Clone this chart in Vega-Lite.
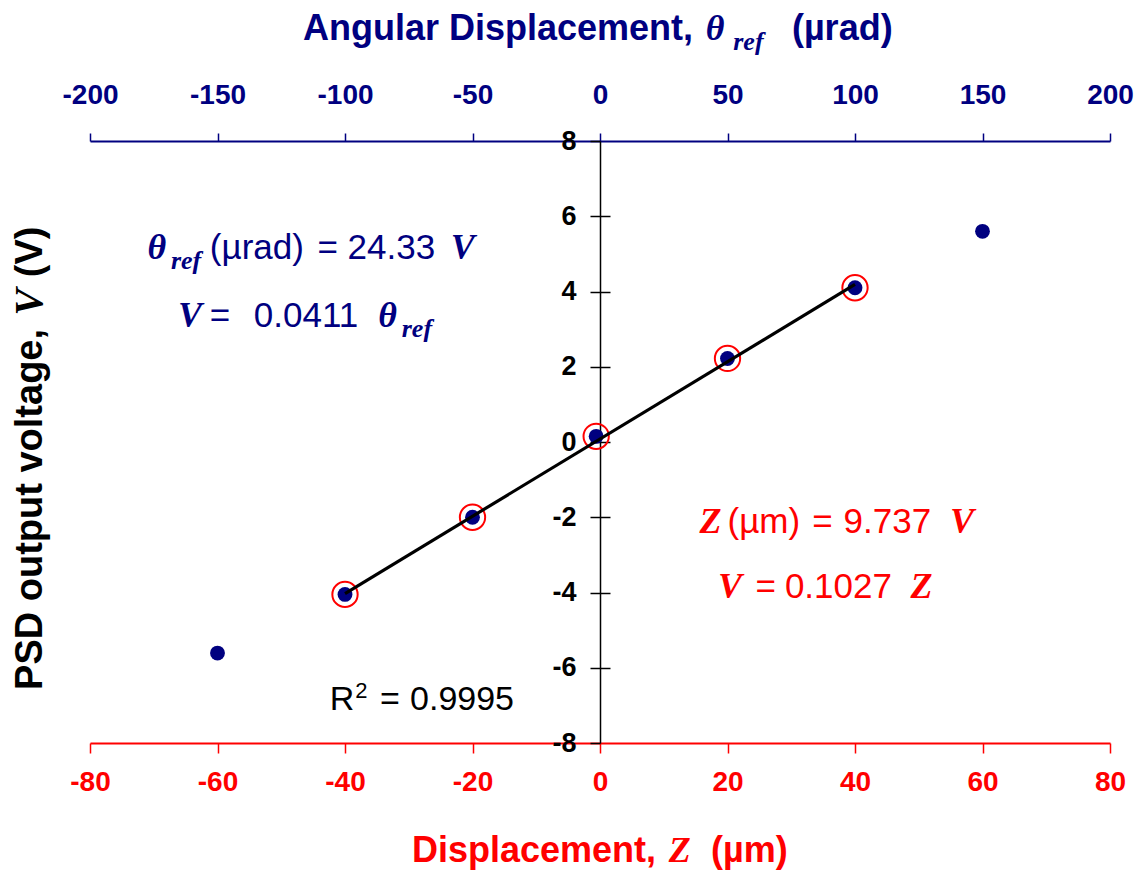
{
  "$schema": "https://vega.github.io/schema/vega-lite/v6.json",
  "width": 1020,
  "height": 602,
  "autosize": {"type": "none"},
  "padding": {"left": 90, "top": 141, "right": 31, "bottom": 133},
  "background": "white",
  "config": {"view": {"stroke": null}},
  "datasets": {
    "psd": [
      {"Z": -60, "theta": -150, "V": -5.61, "inFit": false},
      {"Z": -40, "theta": -100, "V": -4.05, "inFit": true},
      {"Z": -20, "theta": -50, "V": -2.0, "inFit": true},
      {"Z": -0.6, "theta": -1.5, "V": 0.15, "inFit": true},
      {"Z": 20, "theta": 50, "V": 2.22, "inFit": true},
      {"Z": 40, "theta": 100, "V": 4.1, "inFit": true},
      {"Z": 60, "theta": 150, "V": 5.6, "inFit": false}
    ],
    "fit": [
      {"Z": -40, "V": -4.028},
      {"Z": 40, "V": 4.188}
    ],
    "notes": [
      {"s": "navySerif", "t": "θ", "Z": -71.0, "V": 4.86},
      {"s": "navySerif", "t": "V", "Z": -23.4, "V": 4.86},
      {"s": "navySerif", "t": "V", "Z": -66.2, "V": 3.06},
      {"s": "navySerif", "t": "θ", "Z": -34.8, "V": 3.06},
      {"s": "navySerif", "t": "θ", "Z": 16.6, "V": 10.68},
      {"s": "navySub", "t": "ref", "Z": -67.3, "V": 4.6},
      {"s": "navySub", "t": "ref", "Z": -31.1, "V": 2.79},
      {"s": "navySub", "t": "ref", "Z": 20.9, "V": 10.42},
      {"s": "navySans", "t": "(µrad)", "Z": -61.2, "V": 4.86},
      {"s": "navySans", "t": "=", "Z": -44.3, "V": 4.86},
      {"s": "navySans", "t": "24.33", "Z": -39.6, "V": 4.86},
      {"s": "navySans", "t": "=", "Z": -61.2, "V": 3.06},
      {"s": "navySans", "t": "0.0411", "Z": -54.3, "V": 3.06},
      {"s": "navyBold", "t": "Angular Displacement,", "Z": -46.6, "V": 10.68},
      {"s": "navyBold", "t": "(µrad)", "Z": 30.1, "V": 10.68},
      {"s": "redSerif", "t": "Z", "Z": 15.6, "V": -2.42},
      {"s": "redSerif", "t": "V", "Z": 54.9, "V": -2.42},
      {"s": "redSerif", "t": "V", "Z": 18.5, "V": -4.15},
      {"s": "redSerif", "t": "Z", "Z": 48.7, "V": -4.15},
      {"s": "redSerif", "t": "Z", "Z": 10.8, "V": -11.16},
      {"s": "redSans", "t": "(µm)", "Z": 20.0, "V": -2.42},
      {"s": "redSans", "t": "=", "Z": 33.3, "V": -2.42},
      {"s": "redSans", "t": "9.737", "Z": 38.2, "V": -2.42},
      {"s": "redSans", "t": "=", "Z": 24.4, "V": -4.15},
      {"s": "redSans", "t": "0.1027", "Z": 29.0, "V": -4.15},
      {"s": "redBold", "t": "Displacement,", "Z": -29.5, "V": -11.16},
      {"s": "redBold", "t": "(µm)", "Z": 17.4, "V": -11.16},
      {"s": "blackSans", "t": "R", "Z": -42.4, "V": -7.12},
      {"s": "blackSans", "t": "=", "Z": -34.5, "V": -7.12},
      {"s": "blackSans", "t": "0.9995", "Z": -29.8, "V": -7.12},
      {"s": "blackSup", "t": "2", "Z": -38.4, "V": -6.8},
      {"s": "yTitleSans", "t": "PSD output voltage,", "Z": -87.5, "V": -6.59},
      {"s": "yTitleSans", "t": "(V)", "Z": -87.5, "V": 4.38},
      {"s": "yTitleSerif", "t": "V", "Z": -87.5, "V": 3.36}
    ]
  },
  "layer": [
    {
      "encoding": {
        "x": {
          "field": "Z",
          "type": "quantitative",
          "scale": {"domain": [-80, 80], "nice": false, "zero": false},
          "axis": {
            "orient": "bottom",
            "title": null,
            "grid": false,
            "values": [-80, -60, -40, -20, 0, 20, 40, 60, 80],
            "labelExpr": "replace(datum.label, '−', '-')",
            "domainColor": "#FF0000",
            "domainWidth": 2,
            "tickColor": "#FF0000",
            "tickWidth": 1.5,
            "tickSize": 10,
            "labelColor": "#FF0000",
            "labelFont": "Liberation Sans",
            "labelFontWeight": "bold",
            "labelFontSize": 28,
            "labelPadding": 15,
            "labelFlush": false,
            "labelOverlap": false
          }
        },
        "y": {
          "field": "V",
          "type": "quantitative",
          "scale": {"domain": [-8, 8], "nice": false, "zero": false},
          "axis": {
            "orient": "left",
            "offset": -510,
            "title": null,
            "grid": false,
            "values": [-8, -6, -4, -2, 0, 2, 4, 6, 8],
            "labelExpr": "replace(datum.label, '−', '-')",
            "domainColor": "#000000",
            "domainWidth": 1.5,
            "tickColor": "#000000",
            "tickWidth": 1.5,
            "tickSize": 10,
            "labelColor": "#000000",
            "labelFont": "Liberation Sans",
            "labelFontWeight": "bold",
            "labelFontSize": 27,
            "labelPadding": 14,
            "labelFlush": false,
            "labelOverlap": false
          }
        }
      },
      "layer": [
        {
          "data": {"name": "psd"},
          "transform": [{"filter": "datum.inFit"}],
          "mark": {"type": "point", "shape": "circle", "filled": false, "stroke": "#FF0000", "strokeWidth": 2, "size": 640, "opacity": 1}
        },
        {
          "data": {"name": "psd"},
          "mark": {"type": "point", "shape": "circle", "filled": true, "color": "#000080", "size": 220, "opacity": 1}
        },
        {
          "data": {"name": "fit"},
          "mark": {"type": "line", "color": "#000000", "strokeWidth": 3.2}
        },
        {
          "data": {"name": "notes"},
          "transform": [{"filter": "datum.s === 'navySerif'"}],
          "mark": {"type": "text", "align": "left", "baseline": "alphabetic", "font": "Liberation Serif", "fontStyle": "italic", "fontWeight": "bold", "fontSize": 36, "color": "#000080"},
          "encoding": {"text": {"field": "t"}}
        },
        {
          "data": {"name": "notes"},
          "transform": [{"filter": "datum.s === 'navySub'"}],
          "mark": {"type": "text", "align": "left", "baseline": "alphabetic", "font": "Liberation Serif", "fontStyle": "italic", "fontWeight": "bold", "fontSize": 26, "color": "#000080"},
          "encoding": {"text": {"field": "t"}}
        },
        {
          "data": {"name": "notes"},
          "transform": [{"filter": "datum.s === 'navySans'"}],
          "mark": {"type": "text", "align": "left", "baseline": "alphabetic", "font": "Liberation Sans", "fontSize": 35, "color": "#000080"},
          "encoding": {"text": {"field": "t"}}
        },
        {
          "data": {"name": "notes"},
          "transform": [{"filter": "datum.s === 'navyBold'"}],
          "mark": {"type": "text", "align": "left", "baseline": "alphabetic", "font": "Liberation Sans", "fontWeight": "bold", "fontSize": 36, "color": "#000080"},
          "encoding": {"text": {"field": "t"}}
        },
        {
          "data": {"name": "notes"},
          "transform": [{"filter": "datum.s === 'redSerif'"}],
          "mark": {"type": "text", "align": "left", "baseline": "alphabetic", "font": "Liberation Serif", "fontStyle": "italic", "fontWeight": "bold", "fontSize": 36, "color": "#FF0000"},
          "encoding": {"text": {"field": "t"}}
        },
        {
          "data": {"name": "notes"},
          "transform": [{"filter": "datum.s === 'redSans'"}],
          "mark": {"type": "text", "align": "left", "baseline": "alphabetic", "font": "Liberation Sans", "fontSize": 35, "color": "#FF0000"},
          "encoding": {"text": {"field": "t"}}
        },
        {
          "data": {"name": "notes"},
          "transform": [{"filter": "datum.s === 'redBold'"}],
          "mark": {"type": "text", "align": "left", "baseline": "alphabetic", "font": "Liberation Sans", "fontWeight": "bold", "fontSize": 36, "color": "#FF0000"},
          "encoding": {"text": {"field": "t"}}
        },
        {
          "data": {"name": "notes"},
          "transform": [{"filter": "datum.s === 'blackSans'"}],
          "mark": {"type": "text", "align": "left", "baseline": "alphabetic", "font": "Liberation Sans", "fontSize": 34, "color": "#000000"},
          "encoding": {"text": {"field": "t"}}
        },
        {
          "data": {"name": "notes"},
          "transform": [{"filter": "datum.s === 'blackSup'"}],
          "mark": {"type": "text", "align": "left", "baseline": "alphabetic", "font": "Liberation Sans", "fontSize": 22, "color": "#000000"},
          "encoding": {"text": {"field": "t"}}
        },
        {
          "data": {"name": "notes"},
          "transform": [{"filter": "datum.s === 'yTitleSans'"}],
          "mark": {"type": "text", "align": "left", "baseline": "alphabetic", "angle": 270, "font": "Liberation Sans", "fontWeight": "bold", "fontSize": 38, "color": "#000000"},
          "encoding": {"text": {"field": "t"}}
        },
        {
          "data": {"name": "notes"},
          "transform": [{"filter": "datum.s === 'yTitleSerif'"}],
          "mark": {"type": "text", "align": "left", "baseline": "alphabetic", "angle": 270, "font": "Liberation Serif", "fontStyle": "italic", "fontWeight": "bold", "fontSize": 40, "color": "#000000"},
          "encoding": {"text": {"field": "t"}}
        }
      ]
    },
    {
      "data": {"name": "psd"},
      "mark": {"type": "point", "opacity": 0},
      "encoding": {
        "x": {
          "field": "theta",
          "type": "quantitative",
          "scale": {"domain": [-200, 200], "nice": false, "zero": false},
          "axis": {
            "orient": "top",
            "title": null,
            "grid": false,
            "values": [-200, -150, -100, -50, 0, 50, 100, 150, 200],
            "labelExpr": "replace(datum.label, '−', '-')",
            "domainColor": "#000080",
            "domainWidth": 2,
            "tickColor": "#000080",
            "tickWidth": 1.5,
            "tickSize": 8,
            "labelColor": "#000080",
            "labelFont": "Liberation Sans",
            "labelFontWeight": "bold",
            "labelFontSize": 28,
            "labelPadding": 24,
            "labelFlush": false,
            "labelOverlap": false
          }
        },
        "y": {
          "field": "V",
          "type": "quantitative",
          "scale": {"domain": [-8, 8], "nice": false, "zero": false},
          "axis": {
            "orient": "left",
            "offset": -520,
            "title": null,
            "grid": false,
            "values": [-6, -4, -2, 0, 2, 4, 6],
            "domain": false,
            "labels": false,
            "tickColor": "#000000",
            "tickWidth": 1.5,
            "tickSize": 10
          }
        }
      }
    }
  ],
  "resolve": {
    "scale": {"x": "independent"},
    "axis": {"x": "independent", "y": "independent"}
  }
}
